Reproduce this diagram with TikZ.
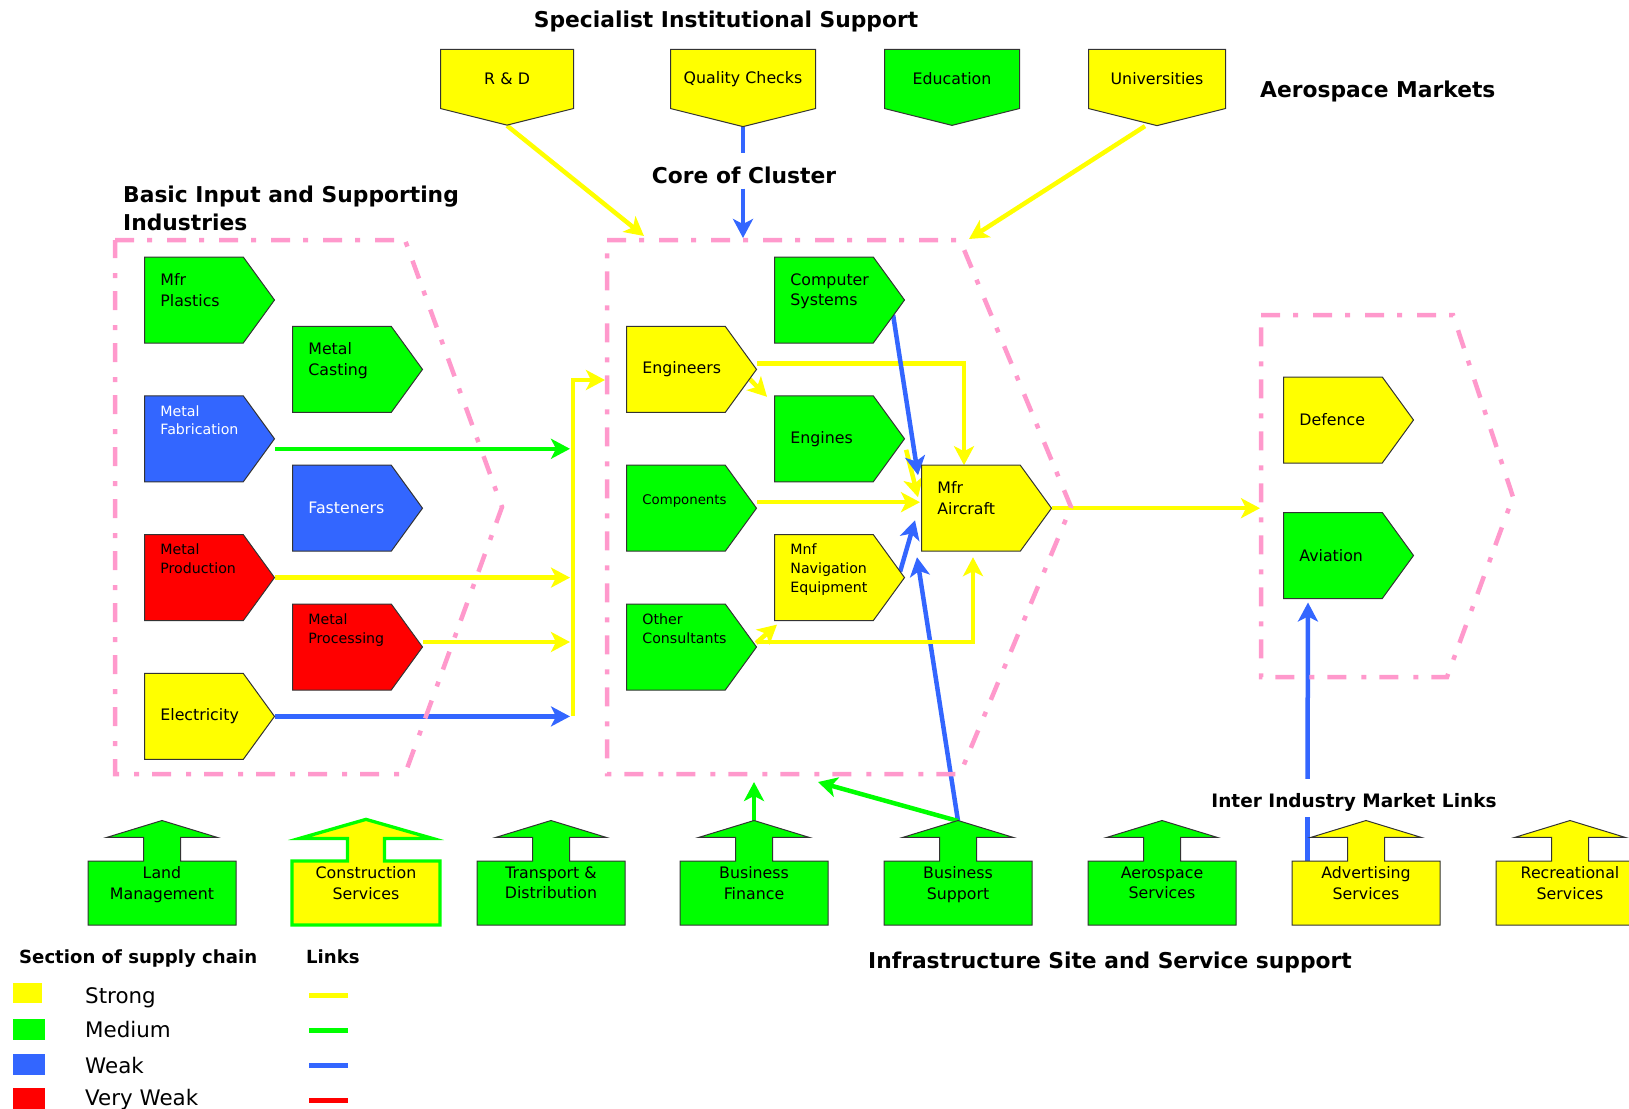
\documentclass[tikz,border=0pt]{standalone}
\usepackage{fontspec}
\setmainfont{DejaVu Sans}
\usepackage{tikz}
\usetikzlibrary{shapes.symbols,shapes.arrows,arrows.meta,backgrounds}
\definecolor{lyellow}{HTML}{FFFF00}
\definecolor{lgreen}{HTML}{00FF00}
\definecolor{lblue}{HTML}{3366FF}
\definecolor{lred}{HTML}{FF0000}
\definecolor{pinkline}{HTML}{FF99CC}
\definecolor{edge}{HTML}{333333}

\begin{document}
\begin{tikzpicture}[x=1pt,y=-1pt,
  sect/.style={signal, signal to=east, signal pointer angle=108, draw=edge, line width=1pt,
    minimum width=130pt, minimum height=86pt, inner sep=0pt, text width=67pt, align=left,
    anchor=west, font=\fontsize{15.8pt}{20.5pt}\selectfont},
  sectsm/.style={sect, font=\fontsize{14.2pt}{18.7pt}\selectfont},
  inst/.style={signal, signal to=south, signal pointer angle=152, draw=edge, line width=1pt,
    minimum height=74pt, inner sep=0pt, text width=120pt, align=center, anchor=north,
    font=\fontsize{15.8pt}{20.5pt}\selectfont},
  infra/.style={arrow box, arrow box arrows={north:40pt from border}, arrow box shaft width=37pt,
    arrow box head extend=37pt, arrow box tip angle=146, draw=edge, line width=1pt,
    minimum width=148pt, minimum height=64pt, inner sep=0pt, align=center,
    font=\fontsize{15.8pt}{20.5pt}\selectfont},
  hdr/.style={font=\bfseries\fontsize{21.8pt}{28pt}\selectfont, inner sep=0pt},
  lgd/.style={anchor=base west, inner sep=0pt, font=\fontsize{21.4pt}{26pt}\selectfont},
  swatch/.style={inner sep=0pt, minimum width=32pt, minimum height=21pt, anchor=north west},
  link/.style={line width=4.5pt},
  stronglink/.style={link, draw=lyellow},
  medlink/.style={link, draw=lgreen},
  weaklink/.style={link, draw=lblue},
  vweaklink/.style={link, draw=lred},
  arrowed/.style={-{Stealth[length=19pt,width=20pt,inset=5pt]}},
  cluster/.style={draw=pinkline, line width=4.5pt, dash pattern=on 19pt off 13pt on 5pt off 15pt}
]
\useasboundingbox (0,0) rectangle (1629,1108);

% headings
\node[hdr, anchor=base] (instsup) at (726,28) {Specialist Institutional Support};
\node[hdr, anchor=base west] (aeromkt) at (1260,97) {Aerospace Markets};
\node[hdr, anchor=west, align=left] (basicin) at (123,208) {Basic Input and Supporting\\Industries};
\node[hdr, anchor=base, text height=25pt, inner ysep=5pt] (corelbl) at (744,183) {Core of Cluster};
\node[hdr, anchor=base, font=\bfseries\fontsize{18.5pt}{22pt}\selectfont, text height=23pt, text depth=5pt, inner ysep=5pt] (mktlinks) at (1354,807) {Inter Industry Market Links};
\node[hdr, anchor=base] (infrasup) at (1110,968) {Infrastructure Site and Service support};

% specialist institutional support
\node[inst, fill=lyellow, minimum width=133pt] (rnd) at (507,49) {R \& D};
\node[inst, fill=lyellow, minimum width=145pt] (quality) at (743,49) {Quality Checks};
\node[inst, fill=lgreen, minimum width=135pt] (educ) at (952,49) {Education};
\node[inst, fill=lyellow, minimum width=137pt] (univ) at (1157,49) {Universities};

% basic input and supporting industries
\node[sect, fill=lgreen] (plastics) at (144,300) {Mfr\\Plastics\\~};
\node[sect, fill=lgreen] (casting) at (292,369.4) {Metal\\Casting\\~};
\node[sectsm, fill=lblue, text=white] (fabric) at (144,438.8) {Metal\\Fabrication\\~\\~};
\node[sect, fill=lblue, text=white] (fasten) at (292,508.2) {Fasteners};
\node[sectsm, fill=lred] (metprod) at (144,577.6) {Metal\\Production\\~\\~};
\node[sectsm, fill=lred] (metproc) at (292,647) {Metal\\Processing\\~\\~};
\node[sect, fill=lyellow] (elec) at (144,716.4) {Electricity};

% core of cluster
\node[sect, fill=lgreen] (compsys) at (774,300) {Computer\\Systems\\~};
\node[sect, fill=lyellow] (engineers) at (626,369.4) {Engineers};
\node[sect, fill=lgreen] (engines) at (774,438.8) {Engines};
\node[sect, fill=lgreen, font=\fontsize{13.3pt}{17pt}\selectfont] (components) at (626,508.2) {Components\\~};
\node[sect, fill=lyellow] (mfrac) at (921,508.2) {Mfr\\Aircraft\\~};
\node[sectsm, fill=lyellow] (navequip) at (774,577.6) {Mnf\\Navigation\\Equipment\\~};
\node[sectsm, fill=lgreen] (consult) at (626,647) {Other\\Consultants\\~\\~};

% aerospace markets
\node[sect, fill=lyellow] (defence) at (1283,420) {Defence};
\node[sect, fill=lgreen] (aviation) at (1283,555.5) {Aviation};

% infrastructure site and service support
\node[infra, fill=lgreen] (landmgmt) at (162,893) {Land\\Management\\~};
\node[infra, fill=lyellow, draw=lgreen, line width=3.3pt, arrow box head extend=48pt, arrow box tip angle=148] (construct) at (366,893) {Construction\\Services\\~};
\node[infra, fill=lgreen] (transport) at (551,893) {Transport \&\\Distribution\\~};
\node[infra, fill=lgreen] (busfin) at (754,893) {Business\\Finance\\~};
\node[infra, fill=lgreen] (bussup) at (958,893) {Business\\Support\\~};
\node[infra, fill=lgreen] (aerosvc) at (1162,893) {Aerospace\\Services\\~};
\node[infra, fill=lyellow] (advert) at (1366,893) {Advertising\\Services\\~};
\node[infra, fill=lyellow] (recreat) at (1570,893) {Recreational\\Services\\~};

% free ends
\coordinate (bus) at (570,380);
\coordinate (bustop) at (573,380);
\coordinate (corein) at (605,380);
\coordinate (rndin) at (644,236);
\coordinate (qualin) at (743,238);
\coordinate (univin) at (969,239);
\coordinate (mktin) at (1260,509);
\coordinate (finin) at (754,782);
\coordinate (supin) at (818,782);
\coordinate (advfoot) at ([shift={(16pt,32pt)}]advert.west);

\begin{scope}[on background layer]
  \draw[medlink, arrowed] ([yshift=-10pt]fabric.east) -- ([yshift=-10pt]fabric.east -| bus);
  \draw[stronglink, arrowed] (metprod.east) -- (metprod.east -| bus);
  \draw[stronglink, arrowed] ([yshift=5pt]metproc.east) -- ([yshift=5pt]metproc.east -| bus);
  \draw[weaklink, arrowed] (elec.east) -- (elec.east -| bus);
  \draw[stronglink, arrowed] (elec.east -| bustop) -- (bustop) -- (corein);

  \draw[stronglink, arrowed] ([yshift=6pt]engineers.east) -| ([shift={(43pt,43pt)}]mfrac.west);
  \draw[stronglink, arrowed] ([shift={(-9pt,-8pt)}]engineers.east) -- ([shift={(-7pt,42pt)}]engines.west);
  \draw[stronglink, arrowed] ([yshift=6pt]components.east) -- ([shift={(-1pt,6pt)}]mfrac.west);
  \draw[stronglink, arrowed] ([shift={(1pt,-11pt)}]engines.east) -- ([shift={(-3pt,11pt)}]mfrac.west);
  \draw[weaklink, arrowed] ([shift={(-12pt,-15pt)}]compsys.east) -- ([shift={(-3pt,33pt)}]mfrac.west);
  \draw[weaklink, arrowed] ([shift={(-5pt,6pt)}]navequip.east) -- ([shift={(-6pt,-12pt)}]mfrac.west);
  \draw[weaklink, arrowed] ([yshift=72pt]bussup.center) -- ([shift={(-4pt,-49pt)}]mfrac.west);
  \draw[stronglink, arrowed] ([yshift=5pt]consult.east) -| ([shift={(52pt,-49pt)}]mfrac.west);
  \draw[stronglink, arrowed] ([shift={(-1pt,4pt)}]consult.east) -- ([shift={(3pt,-47pt)}]navequip.west);

  \draw[stronglink, arrowed] (rnd.south) -- (rndin);
  \draw[weaklink] (quality.south) -- (quality.south |- corelbl.north);
  \draw[weaklink, arrowed] (quality.south |- corelbl.south) -- (qualin);
  \draw[stronglink, arrowed] ([xshift=-12pt]univ.south) -- (univin);

  \draw[stronglink, arrowed] (mfrac.east) -- (mfrac.east -| mktin);
  \draw[weaklink] (advfoot) -- (advfoot |- mktlinks.south);
  \draw[weaklink, arrowed] (advfoot |- mktlinks.north) -- ([shift={(25pt,-47pt)}]aviation.west);

  \draw[medlink, arrowed] ([yshift=72pt]busfin.center) -- (finin);
  \draw[medlink, arrowed] ([yshift=72pt]bussup.center) -- (supin);

  % cluster outlines
  \draw[cluster] (115,240) -- (405,240) -- (502,507) -- (405,774) -- (115,774) -- cycle;
  \draw[cluster] (607,240) -- (960,240) -- (1071,507) -- (960,774) -- (607,774) -- cycle;
  \draw[cluster] (1261,315) -- (1453,315) -- (1513,497) -- (1447,677) -- (1261,677) -- cycle;
\end{scope}

% legend
\node[hdr, anchor=base west, font=\bfseries\fontsize{18.1pt}{22pt}\selectfont] (lgsect) at (19,963) {Section of supply chain};
\node[hdr, anchor=base west, font=\bfseries\fontsize{18.1pt}{22pt}\selectfont] (lglinks) at (306,963) {Links};
\node[swatch, fill=lyellow, minimum width=29pt, minimum height=20pt] (swstrong) at (13,983) {};
\node[swatch, fill=lgreen] (swmed) at (13,1019) {};
\node[swatch, fill=lblue] (swweak) at (13,1054) {};
\node[swatch, fill=lred, minimum height=22pt] (swvweak) at (13,1088) {};
\node[lgd] (lgstrong) at (85,1003) {Strong};
\node[lgd] (lgmed) at (85,1037) {Medium};
\node[lgd] (lgweak) at (85,1073) {Weak};
\node[lgd] (lgvweak) at (85,1105) {Very Weak};
\draw[stronglink, line width=5pt] (309,995) -- (348,995);
\draw[medlink, line width=5pt] (309,1030) -- (348,1030);
\draw[weaklink, line width=5pt] (309,1065) -- (348,1065);
\draw[vweaklink, line width=5pt] (309,1100) -- (348,1100);

\end{tikzpicture}
\end{document}
